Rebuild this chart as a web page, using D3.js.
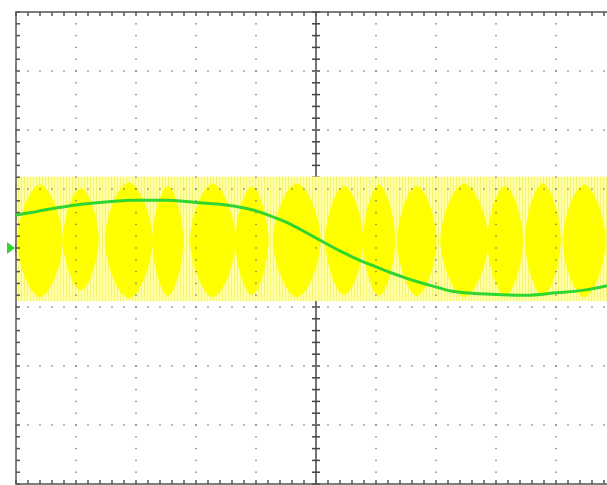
<html>
    <script src="https://d3js.org/d3.v7.min.js"></script>
    <head>
        <style>
        body {margin: 0; background: #fff;}
        .border {stroke: #555; stroke-width: 1.5px; fill: none;}
        .axis {stroke: #444; stroke-width: 1.5px;}
        .dot {fill: #777;}
        .trace {stroke: #2fd62f; stroke-width: 3px; fill: none;}
        </style>
    </head>
    <body onload='init()'>
        <div id="chart"></div>
        <script>
            // green trace (time in divisions, level in divisions)
            var greenT = [0, 0.25, 0.5, 0.75, 1.0, 1.5, 2.0, 2.5, 3.0, 3.5, 4.0, 4.25, 4.5, 4.75, 5.0,
                          5.25, 5.5, 5.75, 6.0, 6.25, 6.5, 6.75, 7.0, 7.25, 7.5, 8.0, 8.5, 9.0, 9.5, 9.85];
            var greenV = [0.56, 0.60, 0.65, 0.69, 0.73, 0.78, 0.81, 0.81, 0.77, 0.73, 0.63, 0.54, 0.44, 0.31, 0.17,
                          0.03, -0.10, -0.22, -0.32, -0.42, -0.51, -0.59, -0.66, -0.73, -0.76, -0.79, -0.80, -0.76, -0.71, -0.64];

            // yellow trace: outer envelope and the bright beat lobes
            var bandTop = 1.21, bandBottom = -0.90;
            var lobeT    = [0.40, 1.08, 1.88, 2.53, 3.28, 3.93, 4.68, 5.47, 6.05, 6.68, 7.47, 8.15, 8.78, 9.47];
            var lobeHalf = [0.38, 0.30, 0.40, 0.26, 0.38, 0.28, 0.40, 0.32, 0.27, 0.33, 0.40, 0.30, 0.30, 0.36];
            var lobeTop  = [1.08, 1.02, 1.12, 1.06, 1.10, 1.05, 1.10, 1.06, 1.08, 1.06, 1.10, 1.06, 1.10, 1.08];
            var lobeBot  = [-0.84, -0.72, -0.86, -0.82, -0.84, -0.80, -0.84, -0.80, -0.82, -0.82, -0.84, -0.82, -0.82, -0.84];

            var triggerLevel = 0;

            function init(){
                var W = 607, H = 485;
                var x = d3.scaleLinear().domain([0, 10]).range([16, 616]);
                var y = d3.scaleLinear().domain([-4, 4]).range([484, 12]);

                const svg = d3.select("#chart").append("svg")
                    .attr("width", W).attr("height", H);

                var defs = svg.append("defs");
                var pat = defs.append("pattern")
                    .attr("id", "stripes")
                    .attr("patternUnits", "userSpaceOnUse")
                    .attr("width", 3).attr("height", 10);
                pat.append("rect").attr("width", 3).attr("height", 10).attr("fill", "#ffffa8");
                pat.append("rect").attr("width", 1).attr("height", 10).attr("fill", "#f5f572");

                svg.append("rect").attr("width", W).attr("height", H).attr("fill", "#fff");

                // center crosshair (under the trace)
                var minor = d3.range(0, 10.01, 0.2);
                var minorY = d3.range(-4, 4.01, 0.2);
                svg.append("line").attr("class", "axis")
                    .attr("x1", x(5)).attr("x2", x(5)).attr("y1", y(4)).attr("y2", y(-4));
                svg.append("line").attr("class", "axis")
                    .attr("x1", x(0)).attr("x2", x(10)).attr("y1", y(0)).attr("y2", y(0));
                svg.selectAll(".cty").data(minorY).enter().append("line").attr("class", "axis")
                    .attr("x1", x(5) - 4).attr("x2", x(5) + 4)
                    .attr("y1", d => y(d)).attr("y2", d => y(d));
                svg.selectAll(".ctx").data(minor).enter().append("line").attr("class", "axis")
                    .attr("y1", y(0) - 4).attr("y2", y(0) + 4)
                    .attr("x1", d => x(d)).attr("x2", d => x(d));

                // yellow band
                svg.append("rect")
                    .attr("x", x(0)).attr("width", x(10) - x(0))
                    .attr("y", y(bandTop)).attr("height", y(bandBottom) - y(bandTop))
                    .attr("fill", "url(#stripes)");

                // lobes drawn as lens shapes (superellipse outline)
                var u = d3.range(-1, 1.0001, 0.05);
                var p = 1.6;
                function lobePath(i){
                    var cx = x(lobeT[i]);
                    var rx = x(lobeHalf[i]) - x(0);
                    var top = y(lobeTop[i]), bot = y(lobeBot[i]);
                    var cy = (top + bot) / 2, ry = (bot - top) / 2;
                    var half = k => rx * Math.pow(1 - Math.pow(Math.abs(k), p), 1 / p);
                    var right = u.map(k => [cx + half(k), cy + ry * k]);
                    var left = u.slice().reverse().map(k => [cx - half(k), cy + ry * k]);
                    return d3.line()(right.concat(left)) + "Z";
                }
                svg.selectAll(".lobe").data(lobeT).enter().append("path")
                    .attr("d", (d, i) => lobePath(i))
                    .attr("fill", "#ffff00");

                // dotted grid
                var gridPts = [];
                d3.range(1, 10).forEach(function(i){
                    if (i === 5) return;
                    minorY.forEach(function(v){ gridPts.push([i, v]); });
                });
                d3.range(-3, 4).forEach(function(j){
                    if (j === 0) return;
                    minor.forEach(function(t){ gridPts.push([t, j]); });
                });
                d3.range(-3, 4).forEach(function(j){
                    gridPts.push([5, j]);
                });
                svg.selectAll(".dot").data(gridPts).enter().append("rect").attr("class", "dot")
                    .attr("x", d => x(d[0]) - 0.7).attr("y", d => y(d[1]) - 0.7)
                    .attr("width", 1.4).attr("height", 1.4);

                // border with ticks
                svg.append("rect").attr("class", "border")
                    .attr("x", x(0)).attr("y", y(4))
                    .attr("width", x(10) - x(0)).attr("height", y(-4) - y(4));
                svg.selectAll(".tt").data(minor).enter().append("line").attr("class", "border")
                    .attr("x1", d => x(d)).attr("x2", d => x(d)).attr("y1", y(4)).attr("y2", y(4) + 4);
                svg.selectAll(".tb").data(minor).enter().append("line").attr("class", "border")
                    .attr("x1", d => x(d)).attr("x2", d => x(d)).attr("y1", y(-4)).attr("y2", y(-4) - 4);
                svg.selectAll(".tl").data(minorY).enter().append("line").attr("class", "border")
                    .attr("x1", x(0)).attr("x2", x(0) + 4).attr("y1", d => y(d)).attr("y2", d => y(d));

                // green trace
                var pts = greenT.map((t, i) => [t, greenV[i]]);
                svg.append("path").attr("class", "trace")
                    .attr("d", d3.line().x(d => x(d[0])).y(d => y(d[1])).curve(d3.curveMonotoneX)(pts));

                // trigger marker
                var ty = y(triggerLevel);
                svg.append("path")
                    .attr("d", "M" + (x(0) - 9) + "," + (ty - 6) + "L" + (x(0) - 1) + "," + ty + "L" + (x(0) - 9) + "," + (ty + 6) + "Z")
                    .attr("fill", "#2fd62f");
            }
        </script>
    </body>
</html>
